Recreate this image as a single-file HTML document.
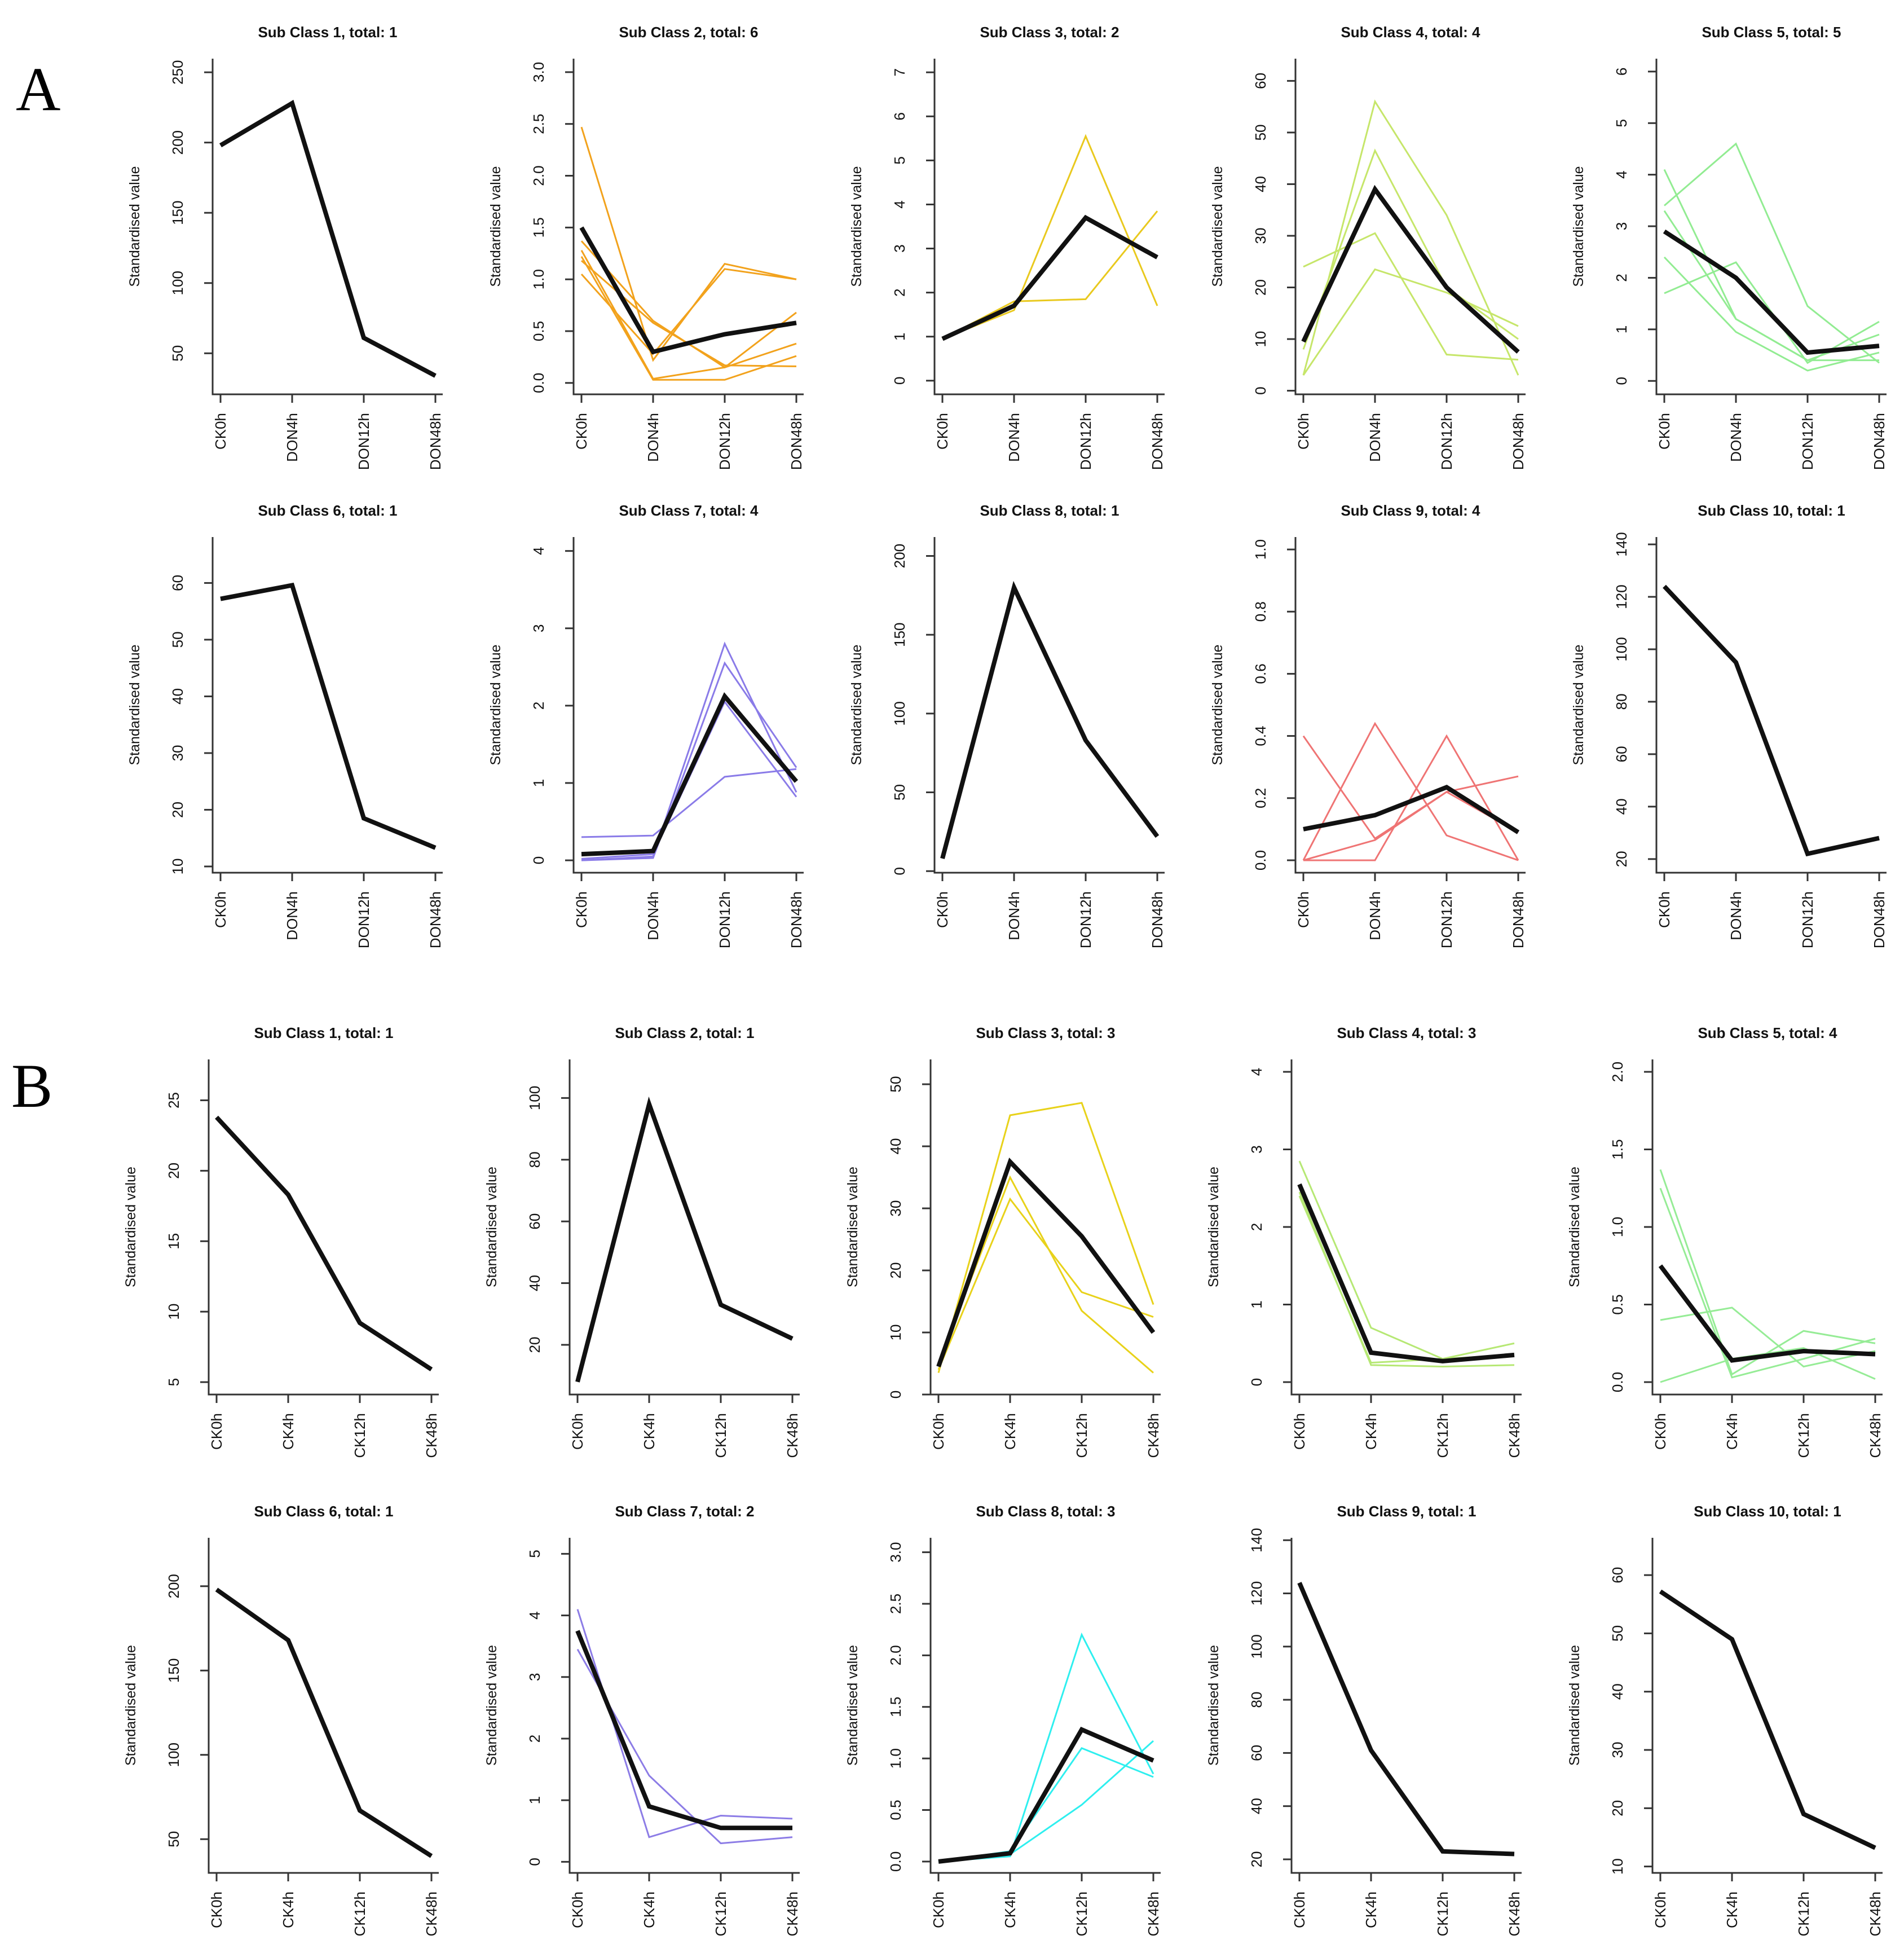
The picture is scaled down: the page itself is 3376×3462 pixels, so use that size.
<!DOCTYPE html>
<html><head><meta charset="utf-8"><style>
html,body{margin:0;padding:0;background:#fff;}
svg{display:block;}
text{font-family:"Liberation Sans",Arial,sans-serif;fill:#111;}
</style></head><body>
<svg id="fig" width="3376" height="3462" viewBox="0 0 3376 3462" xmlns="http://www.w3.org/2000/svg">
<text x="28" y="195" style="font-family:'Liberation Serif',serif;font-size:110px;fill:#000">A</text>
<text x="20" y="1962" style="font-family:'Liberation Serif',serif;font-size:110px;fill:#000">B</text>
</svg>
<script>
// Categories
const catsA = ["CK0h","DON4h","DON12h","DON48h"];
const catsB = ["CK0h","CK4h","CK12h","CK48h"];
// Titles totals
const totalsA = [1,6,2,4,5,1,4,1,4,1];
const totalsB = [1,1,3,3,4,1,2,3,1,1];
// y limits (value at plot-region bottom, top)
const ylimA = [[20.8,259.7],[-0.11,3.13],[-0.31,7.31],[-0.7,64.3],[-0.26,6.25],[8.9,68.1],[-0.16,4.18],[-1,212],[-0.04,1.04],[14.8,142.8]];
const ylimB = [[4.12,27.9],[3.9,112.5],[0,54],[-0.16,4.16],[-0.08,2.08],[30,228.7],[-0.18,5.26],[-0.11,3.14],[14.9,140.9],[8.9,66.4]];
// Tick labels
const ticksA = [[50,100,150,200,250],["0.0","0.5","1.0","1.5","2.0","2.5","3.0"],[0,1,2,3,4,5,6,7],[0,10,20,30,40,50,60],[0,1,2,3,4,5,6],[10,20,30,40,50,60],[0,1,2,3,4],[0,50,100,150,200],["0.0","0.2","0.4","0.6","0.8","1.0"],[20,40,60,80,100,120,140]];
const ticksB = [[5,10,15,20,25],[20,40,60,80,100],[0,10,20,30,40,50],[0,1,2,3,4],["0.0","0.5","1.0","1.5","2.0"],[50,100,150,200],[0,1,2,3,4,5],["0.0","0.5","1.0","1.5","2.0","2.5","3.0"],[20,40,60,80,100,120,140],[10,20,30,40,50,60]];
// Mean profiles (black)
const meanA = [[198,228,61,34],[1.5,0.3,0.47,0.58],[0.95,1.7,3.7,2.8],[9.5,39,20,7.5],[2.9,2.0,0.55,0.68],[57.2,59.6,18.5,13.3],[0.08,0.12,2.12,1.02],[8,180,83,22],[0.1,0.145,0.235,0.09],[124,95,22,28]];
const meanB = [[23.8,18.3,9.2,5.9],[8,98,33,22],[4.5,37.5,25.5,10],[2.55,0.38,0.27,0.35],[0.75,0.14,0.2,0.18],[198,168,67,40],[3.75,0.9,0.55,0.55],[0.0,0.08,1.28,0.98],[124,61,23,22],[57.2,49,19,13.2]];
// Member profiles (coloured)
const membersA = [
 [],
 [[2.47,0.22,1.15,1.0],[1.37,0.60,0.15,0.68],[1.28,0.04,0.15,0.38],[1.22,0.03,0.03,0.26],[1.05,0.28,1.1,1.0],[1.18,0.58,0.17,0.16]],
 [[0.95,1.8,1.85,3.85],[0.95,1.6,5.55,1.7]],
 [[24,30.5,7,6],[3,56,34,3],[8,46.5,20,10],[3,23.5,19,12.5]],
 [[4.1,1.2,0.4,0.4],[3.4,4.6,1.45,0.35],[1.7,2.3,0.35,1.15],[2.4,0.95,0.2,0.55],[3.3,1.2,0.4,0.9]],
 [],
 [[0.3,0.32,1.08,1.18],[0.0,0.05,2.8,0.88],[0.0,0.03,2.55,1.2],[0.02,0.08,2.05,0.82]],
 [],
 [[0.40,0.07,0.22,0.27],[0.0,0.44,0.08,0.0],[0.0,0.0,0.40,0.0],[0.0,0.065,0.22,0.09]],
 []
];
const membersB = [
 [],[],
 [[3.5,45,47,14.5],[5,35,13.5,3.5],[4,31.5,16.5,12.5]],
 [[2.85,0.7,0.3,0.5],[2.45,0.22,0.2,0.22],[2.4,0.25,0.3,0.35]],
 [[1.37,0.05,0.33,0.25],[1.25,0.03,0.15,0.28],[0.4,0.48,0.1,0.2],[0.0,0.15,0.22,0.02]],
 [],
 [[4.1,0.4,0.75,0.7],[3.45,1.4,0.3,0.4]],
 [[0,0.05,2.2,0.85],[0,0.1,1.1,0.82],[0,0.07,0.55,1.17]],
 [],[]
];
const colorsA = ["#000","#F2A21C","#E9C91E","#C6E66A","#92EC92","#000","#8A7BE8","#000","#EF7474","#000"];
const colorsB = ["#000","#000","#E8D21A","#B6E874","#96EC96","#000","#8C7CE6","#2EEFEF","#000","#000"];

const NS="http://www.w3.org/2000/svg";
const svg=document.getElementById('fig');
function mk(tag,attrs,parent){const e=document.createElementNS(NS,tag);for(const k in attrs)e.setAttribute(k,attrs[k]);(parent||svg).appendChild(e);return e;}

function panel(x0,top,bottom,title,cats,ylim,ticks,mean,members,color,idx,grp){
  const g=mk('g',{});
  
  
  const right=x0+408;
  const xs=i=>x0+14+i*127;
  const ys=v=>bottom-(v-ylim[0])/(ylim[1]-ylim[0])*(bottom-top);
  const t=mk('text',{x:(x0+right)/2,y:top-38,'text-anchor':'middle','font-size':26,'font-weight':'bold'},g);
  t.textContent=title;
  
  
  const ax=mk('path',{d:`M${x0},${top} L${x0},${bottom} L${right},${bottom}`,fill:'none',stroke:'#333','stroke-width':3},g);
  
  
  ticks.forEach(tv=>{
    const y=ys(parseFloat(tv));
    mk('line',{x1:x0-15,x2:x0,y1:y,y2:y,stroke:'#333','stroke-width':3},g);
    const lx=x0-62;
    const tl=mk('text',{x:lx,y:y,'text-anchor':'middle','font-size':26,'dominant-baseline':'central',transform:`rotate(-90 ${lx} ${y})`},g);
    tl.textContent=tv;
    
    
  });
  const yl=mk('text',{x:x0-138,y:(top+bottom)/2,'text-anchor':'middle','font-size':25,'dominant-baseline':'central',transform:`rotate(-90 ${x0-138} ${(top+bottom)/2})`},g);
  yl.textContent='Standardised value';
  
  
  cats.forEach((c,i)=>{
    const x=xs(i);
    mk('line',{x1:x,x2:x,y1:bottom,y2:bottom+15,stroke:'#333','stroke-width':3},g);
    const ly=bottom+33;
    const tl=mk('text',{x:x,y:ly,'text-anchor':'end','font-size':26,'dominant-baseline':'central',transform:`rotate(-90 ${x} ${ly})`},g);
    tl.textContent=c;
    
    
  });
  members.forEach(m=>{
    const p=mk('polyline',{points:m.map((v,i)=>xs(i)+','+ys(v)).join(' '),fill:'none',stroke:color,'stroke-width':3,'stroke-linejoin':'miter'},g);
    
    
  });
  const mp=mk('polyline',{points:mean.map((v,i)=>xs(i)+','+ys(v)).join(' '),fill:'none',stroke:'#111','stroke-width':8,'stroke-linejoin':'miter'},g);
  
  
}

for(let k=0;k<10;k++){
  const col=k%5,row=Math.floor(k/5);
  panel(377+640*col,104+848*row,699+848*row,`Sub Class ${k+1}, total: ${totalsA[k]}`,catsA,ylimA[k],ticksA[k],meanA[k],membersA[k],colorsA[k],k+1,'a');
  panel(370+640*col,1878+848*row,2472+848*row,`Sub Class ${k+1}, total: ${totalsB[k]}`,catsB,ylimB[k],ticksB[k],meanB[k],membersB[k],colorsB[k],k+1,'b');
}
</script>
</body></html>
